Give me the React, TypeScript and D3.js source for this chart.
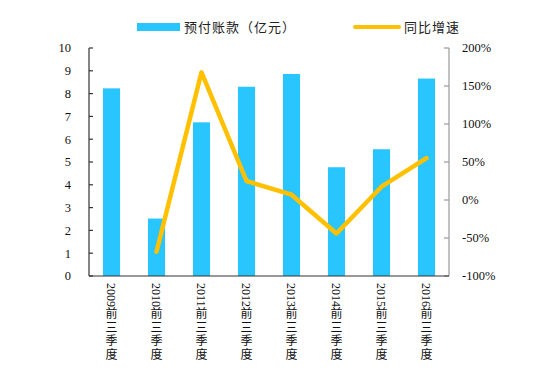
import * as d3 from 'd3';

const categories = ["2009", "2010", "2011", "2012", "2013", "2014", "2015", "2016"];
const suffix = "前三季度";
const prepay = [8.23, 2.52, 6.74, 8.3, 8.86, 4.77, 5.56, 8.66];
const growth: (number | null)[] = [null, -68, 168, 25, 7, -44, 17.5, 55];
const leftTicks = [0, 1, 2, 3, 4, 5, 6, 7, 8, 9, 10];
const rightTicks = [-100, -50, 0, 50, 100, 150, 200];

const W = 539;
const H = 371;
const plot = { left: 89, right: 449, top: 48, bottom: 276 };

const BLUE = "#29c5ff";
const ORANGE = "#ffc000";
const NUM_FONT = "'Liberation Serif', 'Times New Roman', serif";
const CJK_FONT = "'Noto Sans CJK SC', sans-serif";
const MIX_FONT = "'Liberation Serif', 'Noto Sans CJK SC', serif";

export default function App() {
  const x = d3.scaleBand<string>().domain(categories).range([plot.left, plot.right]).paddingInner(0.62).paddingOuter(0.31);
  const yL = d3.scaleLinear().domain([0, 10]).range([plot.bottom, plot.top]);
  const yR = d3.scaleLinear().domain([-100, 200]).range([plot.bottom, plot.top]);
  const center = (c: string) => (x(c) ?? 0) + x.bandwidth() / 2;

  const pts = categories
    .map((c, i) => ({ c, v: growth[i] }))
    .filter((d) => d.v !== null) as { c: string; v: number }[];
  const line = d3
    .line<{ c: string; v: number }>()
    .x((d) => center(d.c))
    .y((d) => yR(d.v));

  return (
    <svg width={W} height={H} style={{ position: "absolute", left: 0, top: 0, background: "#fff" }}>
      {/* legend */}
      <rect x={137} y={23} width={43} height={8} fill={BLUE} />
      <text x={184} y={31.5} fontFamily={CJK_FONT} fontSize={13} letterSpacing={1} fill="#222">预付账款（亿元）</text>
      <line x1={355} x2={399} y1={27} y2={27} stroke={ORANGE} strokeWidth={4} strokeLinecap="round" />
      <text x={404} y={31.5} fontFamily={CJK_FONT} fontSize={13} letterSpacing={1} fill="#222">同比增速</text>

      {/* bars */}
      {categories.map((c, i) => (
        <rect key={c} x={x(c)} y={yL(prepay[i])} width={x.bandwidth()} height={plot.bottom - yL(prepay[i])} fill={BLUE} />
      ))}

      {/* growth line */}
      <path d={line(pts) ?? ""} fill="none" stroke={ORANGE} strokeWidth={4.5} strokeLinejoin="round" strokeLinecap="round" />

      {/* left axis */}
      <line x1={plot.left} x2={plot.left} y1={plot.top} y2={plot.bottom} stroke="#333" strokeWidth={1.2} />
      {leftTicks.map((t) => (
        <g key={t}>
          <line x1={plot.left} x2={plot.left + 4} y1={yL(t)} y2={yL(t)} stroke="#333" strokeWidth={1.2} />
          <text x={71} y={yL(t)} dy="0.35em" textAnchor="end" fontFamily={NUM_FONT} fontSize={12.5} fill="#111">{t}</text>
        </g>
      ))}

      {/* right axis */}
      <line x1={plot.right} x2={plot.right} y1={plot.top} y2={plot.bottom} stroke="#999" strokeWidth={1.2} />
      {rightTicks.map((t) => (
        <g key={t}>
          <line x1={plot.right - 5} x2={plot.right} y1={yR(t)} y2={yR(t)} stroke="#999" strokeWidth={1.2} />
          <text x={462} y={yR(t)} dy="0.35em" textAnchor="start" fontFamily={NUM_FONT} fontSize={12.5} fill="#111">{t}%</text>
        </g>
      ))}

      {/* bottom axis */}
      <line x1={plot.left} x2={plot.right} y1={plot.bottom} y2={plot.bottom} stroke="#333" strokeWidth={1.2} />

      {/* category labels, vertical: year turned, CJK chars stacked upright */}
      {categories.map((c) => {
        const cx = center(c);
        const y0 = 283;
        return (
          <g key={c}>
            <text transform={`translate(${cx},${y0}) rotate(90)`} dy="0.35em" fontFamily={NUM_FONT} fontSize={12} fill="#111">{c}</text>
            {suffix.split("").map((ch, j) => (
              <text key={j} x={cx} y={y0 + 25 + j * 13.5} dy="0.85em" textAnchor="middle" fontFamily={MIX_FONT} fontSize={12} fill="#111">{ch}</text>
            ))}
          </g>
        );
      })}
    </svg>
  );
}
